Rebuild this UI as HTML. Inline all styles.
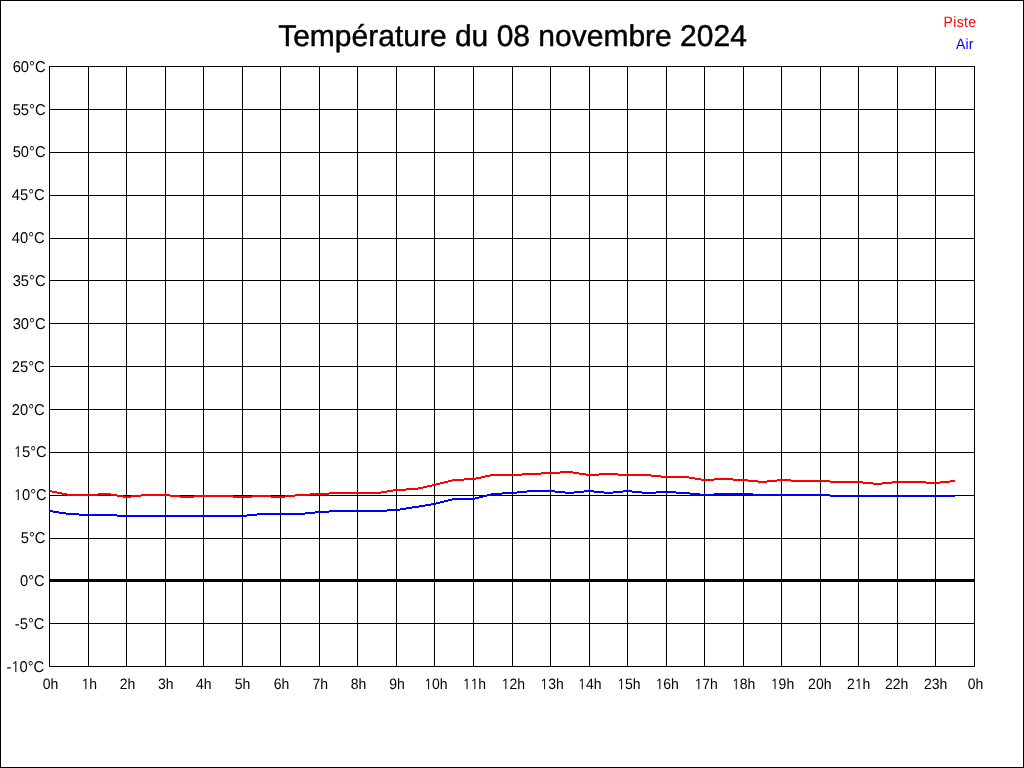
<!DOCTYPE html>
<html><head><meta charset="utf-8"><style>
html,body{margin:0;padding:0;background:#fff;}
svg{display:block;will-change:transform;}
text{font-family:"Liberation Sans",Arial,sans-serif;text-rendering:geometricPrecision;}
path,rect{shape-rendering:crispEdges;}
.ax{font-size:14px;fill:#000;}
.ay{font-size:15px;fill:#000;}
.ti{font-size:30px;fill:#000;stroke:#000;stroke-width:0.45px;stroke-linejoin:round;}
.lg{font-size:15px;}
.one{font-family:NanumGothic,"Liberation Sans",sans-serif;font-size:0.922em;stroke:#000;stroke-width:0.15px;}
</style></head><body>
<svg width="1024" height="768" viewBox="0 0 1024 768">
<rect x="0.5" y="0.5" width="1023" height="767" fill="#fff" stroke="#000" stroke-width="1"/><path d="M49.5 66V667M88.5 66V667M126.5 66V667M165.5 66V667M203.5 66V667M242.5 66V667M280.5 66V667M319.5 66V667M357.5 66V667M396.5 66V667M434.5 66V667M473.5 66V667M512.5 66V667M550.5 66V667M589.5 66V667M627.5 66V667M666.5 66V667M704.5 66V667M743.5 66V667M781.5 66V667M820.5 66V667M858.5 66V667M897.5 66V667M935.5 66V667M974.5 66V667M49 66.5H975M49 109.5H975M49 152.5H975M49 195.5H975M49 238.5H975M49 280.5H975M49 323.5H975M49 366.5H975M49 409.5H975M49 452.5H975M49 495.5H975M49 538.5H975M49 623.5H975M49 666.5H975" stroke="#000" stroke-width="1" fill="none"/><rect x="49" y="579" width="926" height="3" fill="#000"/><text transform="translate(45.50,72) scale(0.98,1.04)" text-anchor="end" class="ay">60°C</text><text transform="translate(45.50,115) scale(0.98,1.04)" text-anchor="end" class="ay">55°C</text><text transform="translate(45.50,157) scale(0.98,1.04)" text-anchor="end" class="ay">50°C</text><text transform="translate(44.70,200) scale(0.98,1.04)" text-anchor="end" class="ay">45°C</text><text transform="translate(44.70,243) scale(0.98,1.04)" text-anchor="end" class="ay">40°C</text><text transform="translate(45.50,286) scale(0.98,1.04)" text-anchor="end" class="ay">35°C</text><text transform="translate(45.50,329) scale(0.98,1.04)" text-anchor="end" class="ay">30°C</text><text transform="translate(44.70,372) scale(0.98,1.04)" text-anchor="end" class="ay">25°C</text><text transform="translate(44.70,415) scale(0.98,1.04)" text-anchor="end" class="ay">20°C</text><text transform="translate(46.70,457) scale(0.98,1.04)" text-anchor="end" class="ay"><tspan class="one">1</tspan>5°C</text><text transform="translate(46.70,500) scale(0.98,1.04)" text-anchor="end" class="ay"><tspan class="one">1</tspan>0°C</text><text transform="translate(45.50,543) scale(0.98,1.04)" text-anchor="end" class="ay">5°C</text><text transform="translate(44.70,586) scale(0.98,1.04)" text-anchor="end" class="ay">0°C</text><text transform="translate(44.40,629) scale(0.98,1.04)" text-anchor="end" class="ay">-5°C</text><text transform="translate(44.20,672) scale(0.98,1.04)" text-anchor="end" class="ay">-<tspan class="one">1</tspan>0°C</text><text transform="translate(50.45,689) scale(1,1.07)" text-anchor="middle" class="ax">0h</text><text transform="translate(89.36,689) scale(1,1.07)" text-anchor="middle" class="ax"><tspan class="one">1</tspan>h</text><text transform="translate(127.53,689) scale(1,1.07)" text-anchor="middle" class="ax">2h</text><text transform="translate(165.82,689) scale(1,1.07)" text-anchor="middle" class="ax">3h</text><text transform="translate(203.87,689) scale(1,1.07)" text-anchor="middle" class="ax">4h</text><text transform="translate(242.41,689) scale(1,1.07)" text-anchor="middle" class="ax">5h</text><text transform="translate(281.45,689) scale(1,1.07)" text-anchor="middle" class="ax">6h</text><text transform="translate(320.23,689) scale(1,1.07)" text-anchor="middle" class="ax">7h</text><text transform="translate(358.53,689) scale(1,1.07)" text-anchor="middle" class="ax">8h</text><text transform="translate(397.07,689) scale(1,1.07)" text-anchor="middle" class="ax">9h</text><text transform="translate(435.88,689) scale(1,1.07)" text-anchor="middle" class="ax"><tspan class="one">1</tspan>0h</text><text transform="translate(474.42,689) scale(1,1.07)" text-anchor="middle" class="ax"><tspan class="one">1</tspan><tspan class="one">1</tspan>h</text><text transform="translate(513.30,689) scale(1,1.07)" text-anchor="middle" class="ax"><tspan class="one">1</tspan>2h</text><text transform="translate(552.00,689) scale(1,1.07)" text-anchor="middle" class="ax"><tspan class="one">1</tspan>3h</text><text transform="translate(589.78,689) scale(1,1.07)" text-anchor="middle" class="ax"><tspan class="one">1</tspan>4h</text><text transform="translate(628.83,689) scale(1,1.07)" text-anchor="middle" class="ax"><tspan class="one">1</tspan>5h</text><text transform="translate(667.13,689) scale(1,1.07)" text-anchor="middle" class="ax"><tspan class="one">1</tspan>6h</text><text transform="translate(706.15,689) scale(1,1.07)" text-anchor="middle" class="ax"><tspan class="one">1</tspan>7h</text><text transform="translate(743.69,689) scale(1,1.07)" text-anchor="middle" class="ax"><tspan class="one">1</tspan>8h</text><text transform="translate(782.49,689) scale(1,1.07)" text-anchor="middle" class="ax"><tspan class="one">1</tspan>9h</text><text transform="translate(819.79,689) scale(1,1.07)" text-anchor="middle" class="ax">20h</text><text transform="translate(858.58,689) scale(1,1.07)" text-anchor="middle" class="ax">2<tspan class="one">1</tspan>h</text><text transform="translate(896.62,689) scale(1,1.07)" text-anchor="middle" class="ax">22h</text><text transform="translate(935.66,689) scale(1,1.07)" text-anchor="middle" class="ax">23h</text><text transform="translate(975.44,689) scale(1,1.07)" text-anchor="middle" class="ax">0h</text><text transform="translate(512.5,45.6) scale(1.0,1.0)" text-anchor="middle" class="ti">Température du 08 novembre 2024</text><text transform="translate(943.6,27) scale(1,1.07)" class="lg" fill="#f00" style="font-size:14px;letter-spacing:0.35px">Piste</text><text transform="translate(956,49) scale(1,1.07)" class="lg" fill="#00f" style="font-size:14px;letter-spacing:0.1px">Air</text>
<path fill="#f00" d="M49 490h3v2h-3zM52 491h5v2h-5zM57 492h5v2h-5zM62 493h5v2h-5zM67 494h31v2h-31zM98 493h13v2h-13zM111 494h6v2h-6zM117 495h6v2h-6zM123 496h8v2h-8zM131 495h10v2h-10zM141 494h29v2h-29zM170 495h10v2h-10zM180 496h14v2h-14zM194 495h39v2h-39zM233 496h19v2h-19zM252 495h19v2h-19zM271 496h14v2h-14zM285 495h10v2h-10zM295 494h15v2h-15zM310 493h19v2h-19zM329 492h52v2h-52zM381 491h6v2h-6zM387 490h6v2h-6zM393 489h13v2h-13zM406 488h12v2h-12zM418 487h5v2h-5zM423 486h4v2h-4zM427 485h5v2h-5zM432 484h4v2h-4zM436 483h4v2h-4zM440 482h4v2h-4zM444 481h4v2h-4zM448 480h4v2h-4zM452 479h12v2h-12zM464 478h12v2h-12zM476 477h5v2h-5zM481 476h4v2h-4zM485 475h5v2h-5zM490 474h32v2h-32zM522 473h19v2h-19zM541 472h19v2h-19zM560 471h13v2h-13zM573 472h6v2h-6zM579 473h7v2h-7zM586 474h13v2h-13zM599 473h19v2h-19zM618 474h33v2h-33zM651 475h10v2h-10zM661 476h28v2h-28zM689 477h6v2h-6zM695 478h6v2h-6zM701 479h13v2h-13zM714 478h19v2h-19zM733 479h15v2h-15zM748 480h10v2h-10zM758 481h9v2h-9zM767 480h10v2h-10zM777 479h14v2h-14zM791 480h39v2h-39zM830 481h33v2h-33zM863 482h10v2h-10zM873 483h9v2h-9zM882 482h10v2h-10zM892 481h34v2h-34zM926 482h14v2h-14zM940 481h10v2h-10zM950 480h5v2h-5z"/>
<path fill="#00f" d="M49 510h4v2h-4zM53 511h6v2h-6zM59 512h7v2h-7zM66 513h13v2h-13zM79 514h38v2h-38zM117 515h130v2h-130zM247 514h10v2h-10zM257 513h48v2h-48zM305 512h10v2h-10zM315 511h14v2h-14zM329 510h58v2h-58zM387 509h13v2h-13zM400 508h6v2h-6zM406 507h6v2h-6zM412 506h7v2h-7zM419 505h6v2h-6zM425 504h6v2h-6zM431 503h5v2h-5zM436 502h4v2h-4zM440 501h4v2h-4zM444 500h4v2h-4zM448 499h4v2h-4zM452 498h23v2h-23zM475 497h4v2h-4zM479 496h4v2h-4zM483 495h4v2h-4zM487 494h4v2h-4zM491 493h11v2h-11zM502 492h15v2h-15zM517 491h10v2h-10zM527 490h28v2h-28zM555 491h10v2h-10zM565 492h9v2h-9zM574 491h10v2h-10zM584 490h10v2h-10zM594 491h10v2h-10zM604 492h9v2h-9zM613 491h10v2h-10zM623 490h9v2h-9zM632 491h10v2h-10zM642 492h14v2h-14zM656 491h20v2h-20zM676 492h14v2h-14zM690 493h10v2h-10zM700 494h14v2h-14zM714 493h39v2h-39zM753 494h77v2h-77zM830 495h125v2h-125z"/>
</svg>
</body></html>
